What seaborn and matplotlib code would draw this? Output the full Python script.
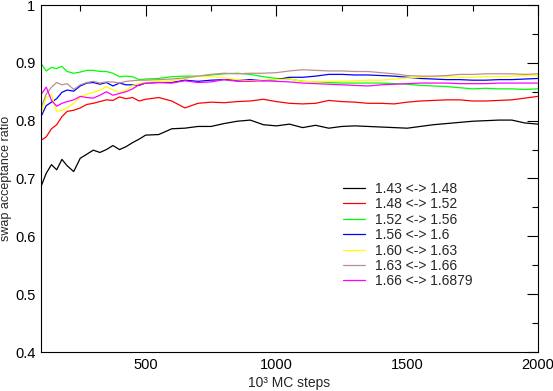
import pandas as pd
import seaborn as sns
import matplotlib.pyplot as plt
from matplotlib.ticker import MultipleLocator, FuncFormatter

# --- valores (10^3 pasos MC vs. tasa de aceptacion) ---
pasos = [100, 120, 140, 160, 180, 200, 225, 250, 275, 300, 325, 350, 375, 400,
         425, 450, 475, 500, 550, 600, 650, 700, 750, 800, 850, 900, 950, 1000,
         1050, 1100, 1150, 1200, 1250, 1300, 1350, 1400, 1450, 1500, 1550, 1600,
         1650, 1700, 1750, 1800, 1850, 1900, 1950, 2000]

r_143_148 = [0.686, 0.709, 0.724, 0.715, 0.733, 0.722, 0.712, 0.735, 0.742, 0.749,
             0.745, 0.750, 0.757, 0.750, 0.755, 0.762, 0.768, 0.775, 0.776, 0.786,
             0.787, 0.790, 0.790, 0.795, 0.799, 0.801, 0.793, 0.791, 0.794, 0.788,
             0.792, 0.787, 0.790, 0.791, 0.790, 0.789, 0.788, 0.787, 0.790, 0.793,
             0.795, 0.797, 0.799, 0.800, 0.801, 0.801, 0.796, 0.794]
r_148_152 = [0.766, 0.772, 0.786, 0.793, 0.807, 0.816, 0.818, 0.822, 0.828, 0.830,
             0.833, 0.836, 0.835, 0.841, 0.838, 0.840, 0.834, 0.837, 0.840, 0.834,
             0.822, 0.830, 0.832, 0.831, 0.833, 0.834, 0.837, 0.833, 0.830, 0.829,
             0.830, 0.835, 0.833, 0.832, 0.830, 0.830, 0.829, 0.832, 0.834, 0.835,
             0.836, 0.836, 0.834, 0.834, 0.835, 0.836, 0.839, 0.842]
r_152_156 = [0.899, 0.886, 0.892, 0.890, 0.894, 0.885, 0.882, 0.884, 0.887, 0.887,
             0.885, 0.885, 0.882, 0.876, 0.877, 0.876, 0.871, 0.872, 0.873, 0.876,
             0.877, 0.877, 0.879, 0.881, 0.882, 0.880, 0.876, 0.873, 0.872, 0.868,
             0.867, 0.866, 0.865, 0.865, 0.865, 0.865, 0.864, 0.863, 0.861, 0.860,
             0.859, 0.857, 0.855, 0.856, 0.855, 0.855, 0.854, 0.855]
r_156_160 = [0.807, 0.826, 0.832, 0.838, 0.849, 0.853, 0.851, 0.860, 0.865, 0.866,
             0.863, 0.866, 0.860, 0.865, 0.862, 0.862, 0.861, 0.865, 0.866, 0.866,
             0.870, 0.868, 0.870, 0.871, 0.870, 0.871, 0.869, 0.871, 0.875, 0.875,
             0.877, 0.880, 0.880, 0.879, 0.879, 0.878, 0.877, 0.875, 0.873, 0.872,
             0.871, 0.871, 0.870, 0.870, 0.871, 0.871, 0.872, 0.873]
r_160_163 = [0.812, 0.840, 0.845, 0.816, 0.818, 0.822, 0.830, 0.841, 0.846, 0.849,
             0.853, 0.859, 0.853, 0.849, 0.852, 0.861, 0.864, 0.866, 0.868, 0.869,
             0.873, 0.877, 0.876, 0.874, 0.871, 0.869, 0.870, 0.871, 0.872, 0.868,
             0.867, 0.868, 0.868, 0.869, 0.870, 0.870, 0.872, 0.874, 0.875, 0.876,
             0.876, 0.875, 0.875, 0.876, 0.876, 0.877, 0.878, 0.878]
r_163_166 = [0.822, 0.846, 0.858, 0.866, 0.862, 0.864, 0.854, 0.862, 0.866, 0.868,
             0.865, 0.867, 0.867, 0.865, 0.868, 0.869, 0.870, 0.870, 0.871, 0.872,
             0.874, 0.877, 0.880, 0.882, 0.881, 0.882, 0.882, 0.883, 0.886, 0.888,
             0.887, 0.886, 0.886, 0.885, 0.885, 0.883, 0.881, 0.878, 0.877, 0.877,
             0.878, 0.880, 0.880, 0.881, 0.881, 0.881, 0.880, 0.881]
r_166_16879 = [0.845, 0.858, 0.835, 0.825, 0.830, 0.833, 0.836, 0.842, 0.840, 0.839,
               0.844, 0.850, 0.844, 0.847, 0.850, 0.855, 0.862, 0.865, 0.866, 0.865,
               0.869, 0.866, 0.867, 0.871, 0.868, 0.868, 0.869, 0.868, 0.867, 0.865,
               0.864, 0.863, 0.862, 0.861, 0.860, 0.862, 0.863, 0.864, 0.865, 0.865,
               0.865, 0.864, 0.864, 0.864, 0.865, 0.865, 0.865, 0.865]

etiquetas = ['1.43 <-> 1.48', '1.48 <-> 1.52', '1.52 <-> 1.56', '1.56 <-> 1.6',
             '1.60 <-> 1.63', '1.63 <-> 1.66', '1.66 <-> 1.6879']
colores = ['#000000', '#ff0000', '#00ff00', '#0000ff', '#ffff00', '#bc8f8f', '#ff00ff']
series = [r_143_148, r_148_152, r_152_156, r_156_160, r_160_163, r_163_166, r_166_16879]

# tabla larga para seaborn
filas = []
for etiqueta, valores in zip(etiquetas, series):
    for x, y in zip(pasos, valores):
        filas.append({'pasos': x, 'ratio': y, 'par': etiqueta})
df = pd.DataFrame(filas)

sns.set_style('white')
plt.rcParams['font.family'] = ['Liberation Sans', 'DejaVu Sans']

fig = plt.figure(figsize=(5.53, 3.91), dpi=100)
ax = fig.add_axes([41 / 553, 39 / 391, 497 / 553, 347 / 391])

sns.lineplot(data=df, x='pasos', y='ratio', hue='par', hue_order=etiquetas,
             palette=colores, linewidth=0.9, ax=ax)

ax.set_xlim(100, 2000)
ax.set_ylim(0.4, 1.0)
ax.xaxis.set_major_locator(MultipleLocator(500))
ax.xaxis.set_minor_locator(MultipleLocator(250))
ax.yaxis.set_major_locator(MultipleLocator(0.1))
ax.yaxis.set_minor_locator(MultipleLocator(0.05))
ax.yaxis.set_major_formatter(FuncFormatter(lambda v, p: f'{v:g}'))
ax.tick_params(which='both', direction='in', top=True, right=True,
               labelsize=10.5, colors='black', pad=4)
ax.tick_params(which='major', length=8, width=0.8)
ax.tick_params(which='minor', length=4.5, width=0.8)
for lado in ax.spines.values():
    lado.set_color('black')
    lado.set_linewidth(0.8)

# etiqueta x anclada por abajo para que no se corte
ax.set_xlabel('10³ MC steps', fontsize=10, va='bottom')
ax.xaxis.set_label_coords(0.5, -0.11)
ax.set_ylabel('swap acceptance ratio', fontsize=9, labelpad=2)

ax.legend(loc='upper left', bbox_to_anchor=(0.608, 0.49), frameon=False,
          fontsize=10, handlelength=1.6, handletextpad=0.7, labelspacing=0.1,
          borderpad=0, borderaxespad=0)

fig.savefig('out.png', dpi=100)
